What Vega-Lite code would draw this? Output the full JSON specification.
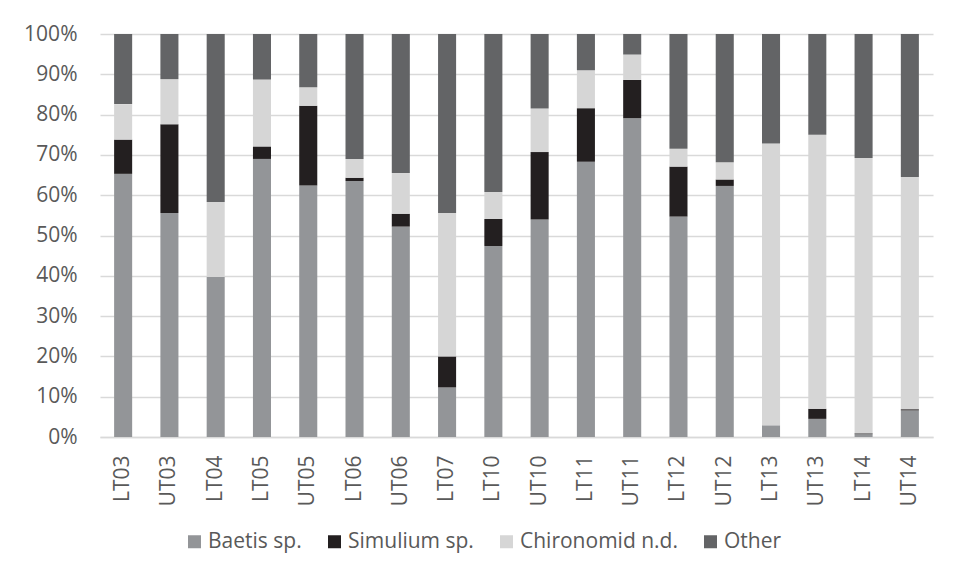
{
  "$schema": "https://vega.github.io/schema/vega-lite/v6.json",
  "autosize": {"type": "none"},
  "padding": {"left": 100, "top": 34, "right": 20, "bottom": 140},
  "width": 833,
  "height": 403,
  "background": "white",
  "config": {
    "view": {"stroke": null},
    "font": "Open Sans",
    "axis": {"labelFont": "Open Sans", "labelColor": "#595959", "labelFontSize": 21},
    "legend": {"labelFont": "Open Sans", "labelColor": "#595959", "labelFontSize": 21}
  },
  "data": {
    "values": [
      {"site": "LT03", "taxon": "Baetis sp.", "pct": 65.3}, {"site": "LT03", "taxon": "Simulium sp.", "pct": 8.5}, {"site": "LT03", "taxon": "Chironomid n.d.", "pct": 8.8}, {"site": "LT03", "taxon": "Other", "pct": 17.4},
      {"site": "UT03", "taxon": "Baetis sp.", "pct": 55.6}, {"site": "UT03", "taxon": "Simulium sp.", "pct": 22.0}, {"site": "UT03", "taxon": "Chironomid n.d.", "pct": 11.2}, {"site": "UT03", "taxon": "Other", "pct": 11.2},
      {"site": "LT04", "taxon": "Baetis sp.", "pct": 39.7}, {"site": "LT04", "taxon": "Simulium sp.", "pct": 0}, {"site": "LT04", "taxon": "Chironomid n.d.", "pct": 18.6}, {"site": "LT04", "taxon": "Other", "pct": 41.7},
      {"site": "LT05", "taxon": "Baetis sp.", "pct": 69.0}, {"site": "LT05", "taxon": "Simulium sp.", "pct": 3.1}, {"site": "LT05", "taxon": "Chironomid n.d.", "pct": 16.6}, {"site": "LT05", "taxon": "Other", "pct": 11.3},
      {"site": "UT05", "taxon": "Baetis sp.", "pct": 62.4}, {"site": "UT05", "taxon": "Simulium sp.", "pct": 19.8}, {"site": "UT05", "taxon": "Chironomid n.d.", "pct": 4.6}, {"site": "UT05", "taxon": "Other", "pct": 13.2},
      {"site": "LT06", "taxon": "Baetis sp.", "pct": 63.5}, {"site": "LT06", "taxon": "Simulium sp.", "pct": 0.8}, {"site": "LT06", "taxon": "Chironomid n.d.", "pct": 4.7}, {"site": "LT06", "taxon": "Other", "pct": 31.0},
      {"site": "UT06", "taxon": "Baetis sp.", "pct": 52.2}, {"site": "UT06", "taxon": "Simulium sp.", "pct": 3.2}, {"site": "UT06", "taxon": "Chironomid n.d.", "pct": 10.1}, {"site": "UT06", "taxon": "Other", "pct": 34.5},
      {"site": "LT07", "taxon": "Baetis sp.", "pct": 12.3}, {"site": "LT07", "taxon": "Simulium sp.", "pct": 7.7}, {"site": "LT07", "taxon": "Chironomid n.d.", "pct": 35.6}, {"site": "LT07", "taxon": "Other", "pct": 44.4},
      {"site": "LT10", "taxon": "Baetis sp.", "pct": 47.4}, {"site": "LT10", "taxon": "Simulium sp.", "pct": 6.7}, {"site": "LT10", "taxon": "Chironomid n.d.", "pct": 6.7}, {"site": "LT10", "taxon": "Other", "pct": 39.2},
      {"site": "UT10", "taxon": "Baetis sp.", "pct": 54.0}, {"site": "UT10", "taxon": "Simulium sp.", "pct": 16.7}, {"site": "UT10", "taxon": "Chironomid n.d.", "pct": 10.8}, {"site": "UT10", "taxon": "Other", "pct": 18.5},
      {"site": "LT11", "taxon": "Baetis sp.", "pct": 68.3}, {"site": "LT11", "taxon": "Simulium sp.", "pct": 13.3}, {"site": "LT11", "taxon": "Chironomid n.d.", "pct": 9.4}, {"site": "LT11", "taxon": "Other", "pct": 9.0},
      {"site": "UT11", "taxon": "Baetis sp.", "pct": 79.1}, {"site": "UT11", "taxon": "Simulium sp.", "pct": 9.5}, {"site": "UT11", "taxon": "Chironomid n.d.", "pct": 6.3}, {"site": "UT11", "taxon": "Other", "pct": 5.1},
      {"site": "LT12", "taxon": "Baetis sp.", "pct": 54.7}, {"site": "LT12", "taxon": "Simulium sp.", "pct": 12.4}, {"site": "LT12", "taxon": "Chironomid n.d.", "pct": 4.4}, {"site": "LT12", "taxon": "Other", "pct": 28.5},
      {"site": "UT12", "taxon": "Baetis sp.", "pct": 62.3}, {"site": "UT12", "taxon": "Simulium sp.", "pct": 1.6}, {"site": "UT12", "taxon": "Chironomid n.d.", "pct": 4.3}, {"site": "UT12", "taxon": "Other", "pct": 31.8},
      {"site": "LT13", "taxon": "Baetis sp.", "pct": 2.9}, {"site": "LT13", "taxon": "Simulium sp.", "pct": 0}, {"site": "LT13", "taxon": "Chironomid n.d.", "pct": 69.9}, {"site": "LT13", "taxon": "Other", "pct": 27.2},
      {"site": "UT13", "taxon": "Baetis sp.", "pct": 4.5}, {"site": "UT13", "taxon": "Simulium sp.", "pct": 2.5}, {"site": "UT13", "taxon": "Chironomid n.d.", "pct": 68.0}, {"site": "UT13", "taxon": "Other", "pct": 25.0},
      {"site": "LT14", "taxon": "Baetis sp.", "pct": 0.7}, {"site": "LT14", "taxon": "Simulium sp.", "pct": 0.2}, {"site": "LT14", "taxon": "Chironomid n.d.", "pct": 68.3}, {"site": "LT14", "taxon": "Other", "pct": 30.8},
      {"site": "UT14", "taxon": "Baetis sp.", "pct": 6.6}, {"site": "UT14", "taxon": "Simulium sp.", "pct": 0.3}, {"site": "UT14", "taxon": "Chironomid n.d.", "pct": 57.6}, {"site": "UT14", "taxon": "Other", "pct": 35.5}
    ]
  },
  "transform": [
    {"calculate": "indexof(['Baetis sp.', 'Simulium sp.', 'Chironomid n.d.', 'Other'], datum.taxon)", "as": "stackOrder"}
  ],
  "mark": {"type": "bar"},
  "encoding": {
    "x": {
      "field": "site", "type": "nominal", "sort": null,
      "scale": {"paddingInner": 0.61, "paddingOuter": 0.305},
      "axis": {"title": null, "labelAngle": -90, "ticks": false, "labelPadding": 18, "domainColor": "#d9d9d9", "domainWidth": 1.5}
    },
    "y": {
      "field": "pct", "type": "quantitative", "stack": "normalize",
      "scale": {"domain": [0, 1]},
      "axis": {"title": null, "format": ".0%", "values": [0, 0.1, 0.2, 0.3, 0.4, 0.5, 0.6, 0.7, 0.8, 0.9, 1], "ticks": false, "domain": false, "labelPadding": 23, "gridColor": "#d9d9d9", "gridWidth": 1.5}
    },
    "color": {
      "field": "taxon", "type": "nominal",
      "scale": {"domain": ["Baetis sp.", "Simulium sp.", "Chironomid n.d.", "Other"], "range": ["#939598", "#231f20", "#d6d6d6", "#636466"]},
      "legend": {"title": null, "orient": "none", "direction": "horizontal", "legendX": 84, "legendY": 497, "symbolType": "square", "symbolSize": 169, "symbolStrokeWidth": 0, "symbolOpacity": 1, "columnPadding": 22, "labelOffset": 3}
    },
    "order": {"field": "stackOrder", "type": "quantitative", "sort": "ascending"}
  }
}
